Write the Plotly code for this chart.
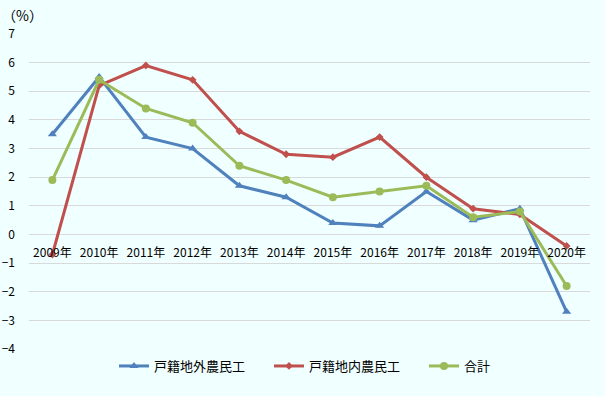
import plotly.graph_objects as go

years = ["2009年", "2010年", "2011年", "2012年", "2013年", "2014年",
         "2015年", "2016年", "2017年", "2018年", "2019年", "2020年"]
outside = [3.5, 5.5, 3.4, 3.0, 1.7, 1.3, 0.4, 0.3, 1.5, 0.5, 0.9, -2.7]
local = [-0.7, 5.2, 5.9, 5.4, 3.6, 2.8, 2.7, 3.4, 2.0, 0.9, 0.7, -0.4]
total = [1.9, 5.4, 4.4, 3.9, 2.4, 1.9, 1.3, 1.5, 1.7, 0.6, 0.8, -1.8]
names = ["戸籍地外農民工", "戸籍地内農民工", "合計"]
colors = ["#4F81BD", "#C0504D", "#9BBB59"]
symbols = ["triangle-up", "diamond", "circle"]
y_ticks = [7, 6, 5, 4, 3, 2, 1, 0, -1, -2, -3, -4]
y_min, y_max = -4, 7

FONT = "Noto Sans CJK JP, Noto Sans, sans-serif"
BG = "#F0FFFF"
fig = go.Figure()
for name, vals, c, s in zip(names, [outside, local, total], colors, symbols):
    fig.add_trace(go.Scatter(
        x=years, y=vals, name=name, mode="lines+markers",
        line=dict(color=c, width=3),
        marker=dict(symbol=s, size=8 if s != "diamond" else 6, color=c),
        hoverinfo="skip",
    ))

fig.update_layout(
    width=605, height=396,
    margin=dict(l=29, r=15, t=34, b=47),
    paper_bgcolor=BG, plot_bgcolor=BG,
    font=dict(family=FONT, size=12, color="#000000"),
    showlegend=True,
    legend=dict(orientation="h", x=(114 - 29) / 561, xanchor="left",
                y=-0.054, yanchor="middle",
                font=dict(size=13, family=FONT),
                entrywidth=110, entrywidthmode="pixels",
                bgcolor="rgba(0,0,0,0)", itemwidth=30),
    xaxis=dict(type="category", range=[-0.5, 11.5], automargin=False,
               anchor="free", position=(0 - y_min) / (y_max - y_min),
               showgrid=False, showline=False, zeroline=False,
               ticks="", ticklabelstandoff=10,
               tickfont=dict(size=12, family=FONT)),
    yaxis=dict(range=[y_min, y_max], tickvals=y_ticks, automargin=False,
               showgrid=True, gridcolor="#D9D9D9", gridwidth=1,
               zeroline=True, zerolinecolor="#D9D9D9", zerolinewidth=1,
               showline=False, ticks="", ticklabelstandoff=13,
               tickfont=dict(size=12, family=FONT)),
    annotations=[dict(text="（%）", xref="paper", yref="paper",
                      x=-29/561, y=1 + 19/315, xanchor="left", yanchor="middle",
                      showarrow=False, font=dict(size=14, family=FONT))],
)

fig.write_html(
    "out.html",
    config={"displayModeBar": False},
    post_script="document.body.style.margin='0';document.body.style.background='%s';" % BG,
)
